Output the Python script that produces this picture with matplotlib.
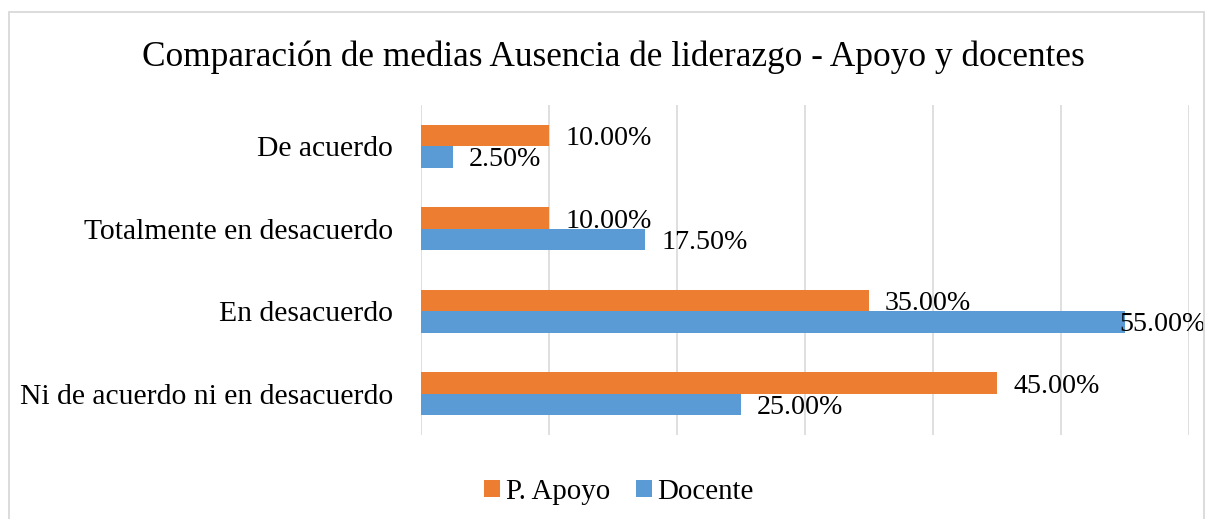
import matplotlib
matplotlib.use("Agg")
import matplotlib.pyplot as plt
from matplotlib.patches import Rectangle
import numpy as np

categories = ["Ni de acuerdo ni en desacuerdo", "En desacuerdo",
              "Totalmente en desacuerdo", "De acuerdo"]
apoyo = [45.0, 35.0, 10.0, 10.0]
docente = [25.0, 55.0, 17.5, 2.5]
series_names = ["P. Apoyo", "Docente"]
title = "Comparación de medias Ausencia de liderazgo - Apoyo y docentes"

ORANGE = "#ED7D31"
BLUE = "#5B9BD5"
GRID = "#D9D9D9"
FONT = "Liberation Serif"

W, H = 1208, 519
fig = plt.figure(figsize=(W / 100, H / 100), dpi=100)
fig.patch.set_facecolor("white")

# outer chart border
fig.patches.append(Rectangle((9 / W, -0.05), (1204 - 9) / W, 1.05 - 12 / H,
                             transform=fig.transFigure, fill=False,
                             edgecolor=GRID, linewidth=1.3))

ax = fig.add_axes([421 / W, 1 - 435 / H, (1189 - 421) / W, (435 - 105) / H])
y = np.arange(len(categories))
h = 0.26
b1 = ax.barh(y + h / 2, apoyo, height=h, color=ORANGE, label=series_names[0], zorder=3)
b2 = ax.barh(y - h / 2, docente, height=h, color=BLUE, label=series_names[1], zorder=3)

ax.set_xlim(0, 60)
ax.set_ylim(-0.5, 3.5)
ax.set_xticks(np.arange(0, 61, 10))
ax.xaxis.grid(True, color=GRID, linewidth=1.2, zorder=0)
ax.tick_params(axis="x", length=0, labelbottom=False)
ax.tick_params(axis="y", length=0, pad=20)
ax.set_yticks(y)
ax.set_yticklabels(categories, fontsize=21.3, family=FONT)
for s in ax.spines.values():
    s.set_visible(False)

texts = []
for bars, vals in ((b1, apoyo), (b2, docente)):
    for rect, v in zip(bars, vals):
        t = ax.annotate(f"{v:.2f}%", xy=(rect.get_width(), rect.get_y() + rect.get_height() / 2),
                        xytext=(16, -3), textcoords="offset pixels",
                        ha="left", va="center", fontsize=20.2, family=FONT,
                        annotation_clip=False, zorder=4)
        texts.append(t)

fig.text(613 / W, 1 - 57 / H, title, ha="center", va="center", fontsize=25.4, family=FONT)

leg = fig.legend(handles=[b1, b2], labels=series_names, loc="center",
                 bbox_to_anchor=(619 / W, 1 - 492 / H), ncol=2, frameon=False,
                 prop={"family": FONT, "size": 20.8}, handlelength=0.55, handleheight=0.55,
                 handletextpad=0.2, columnspacing=0.9)

# keep labels inside the chart area (like the original)
fig.canvas.draw()
r = fig.canvas.get_renderer()
limit = 1206
for t in texts:
    bb = t.get_window_extent(r)
    if bb.x1 > limit:
        dx, dy = t.xyann
        t.xyann = (dx - (bb.x1 - limit), dy)

fig.savefig("out.png", dpi=100, facecolor="white")
